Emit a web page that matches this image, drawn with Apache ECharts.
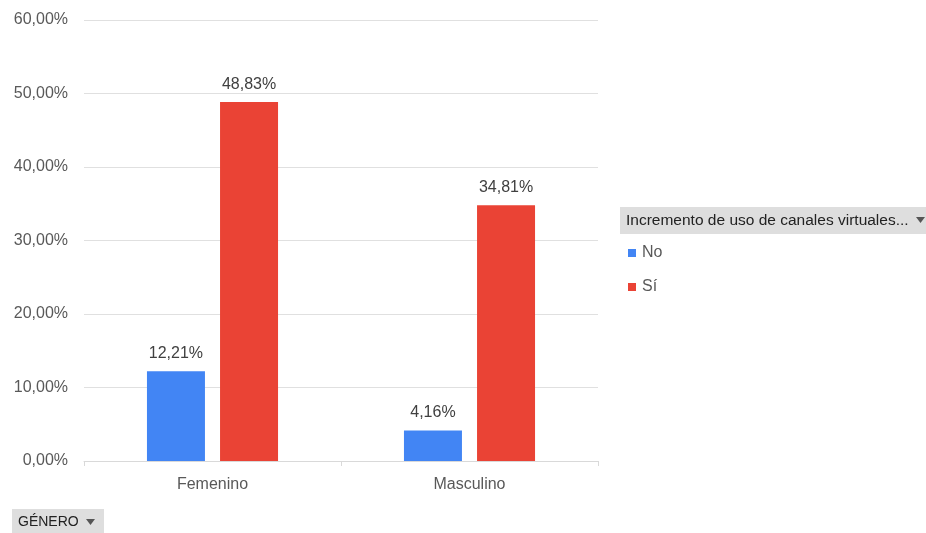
<!DOCTYPE html>
<html>
<head>
<meta charset="utf-8">
<script src="https://cdn.jsdelivr.net/npm/echarts@6/dist/echarts.min.js"></script>
<style>
  html, body { margin: 0; padding: 0; background: #fff; }
  #chart { width: 926px; height: 533px; }
</style>
</head>
<body>
<div id="chart"></div>
<script>
// Categories and series values (percent)
const categories = ['Femenino', 'Masculino'];
const seriesNames = ['No', 'Sí'];
const noValues = [12.21, 4.16];
const siValues = [48.83, 34.81];
const yTicks = [0, 10, 20, 30, 40, 50, 60];

const fmt = (v, d) => v.toFixed(d).replace('.', ',') + '%';
const textColor = '#595959';
const axisFont = '"Liberation Sans", Arial, sans-serif';
const headerFont = '"Liberation Sans", Arial, sans-serif';

const chart = echarts.init(document.getElementById('chart'), null, { renderer: 'canvas' });

chart.setOption({
  animation: false,
  grid: { left: 84, right: 328, top: 20, bottom: 72, containLabel: false },
  xAxis: {
    type: 'category',
    data: categories,
    axisLine: { lineStyle: { color: '#d9d9d9', width: 1 } },
    axisTick: { show: true, length: 5, lineStyle: { color: '#d9d9d9' } },
    axisLabel: { color: textColor, fontSize: 16, fontFamily: axisFont, margin: 16 }
  },
  yAxis: {
    type: 'value',
    min: yTicks[0],
    max: yTicks[yTicks.length - 1],
    interval: 10,
    axisLine: { show: false },
    axisTick: { show: false },
    splitLine: { lineStyle: { color: '#e0e0e0', width: 1 } },
    axisLabel: {
      color: textColor, fontSize: 16, fontFamily: axisFont, margin: 16,
      formatter: v => fmt(v, 2)
    }
  },
  legend: {
    orient: 'vertical',
    left: 628,
    top: 245,
    padding: 0,
    itemWidth: 8,
    itemHeight: 8,
    itemGap: 18,
    icon: 'rect',
    textStyle: { color: textColor, fontSize: 16, fontFamily: axisFont, padding: [0, 0, 0, 1] },
    data: seriesNames
  },
  series: [
    {
      name: seriesNames[0],
      type: 'bar',
      data: noValues,
      barWidth: 58,
      barGap: '26%',
      itemStyle: { color: '#4285F4' },
      label: {
        show: true, position: 'top', distance: 10,
        color: '#404040', fontSize: 16, fontFamily: axisFont,
        formatter: p => fmt(p.value, 2)
      }
    },
    {
      name: seriesNames[1],
      type: 'bar',
      data: siValues,
      barWidth: 58,
      barGap: '26%',
      itemStyle: { color: '#EA4335' },
      label: {
        show: true, position: 'top', distance: 10,
        color: '#404040', fontSize: 16, fontFamily: axisFont,
        formatter: p => fmt(p.value, 2)
      }
    }
  ],
  graphic: [
    // Field header of the legend
    {
      type: 'rect',
      shape: { x: 620, y: 207, width: 306, height: 27 },
      style: { fill: '#dedede' }
    },
    {
      type: 'text',
      x: 626, y: 221,
      style: {
        text: 'Incremento de uso de canales virtuales...',
        fill: '#222', fontSize: 15.5, fontFamily: headerFont,
        verticalAlign: 'middle'
      }
    },
    {
      type: 'polygon',
      shape: { points: [[916, 217], [925, 217], [920.5, 223]] },
      style: { fill: '#555' }
    },
    // Axis field button
    {
      type: 'rect',
      shape: { x: 12, y: 509, width: 92, height: 24 },
      style: { fill: '#dedede' }
    },
    {
      type: 'text',
      x: 18, y: 522,
      style: {
        text: 'GÉNERO',
        fill: '#222', fontSize: 14, fontFamily: headerFont,
        verticalAlign: 'middle'
      }
    },
    {
      type: 'polygon',
      shape: { points: [[86, 519], [95, 519], [90.5, 525]] },
      style: { fill: '#555' }
    }
  ]
});
</script>
</body>
</html>
